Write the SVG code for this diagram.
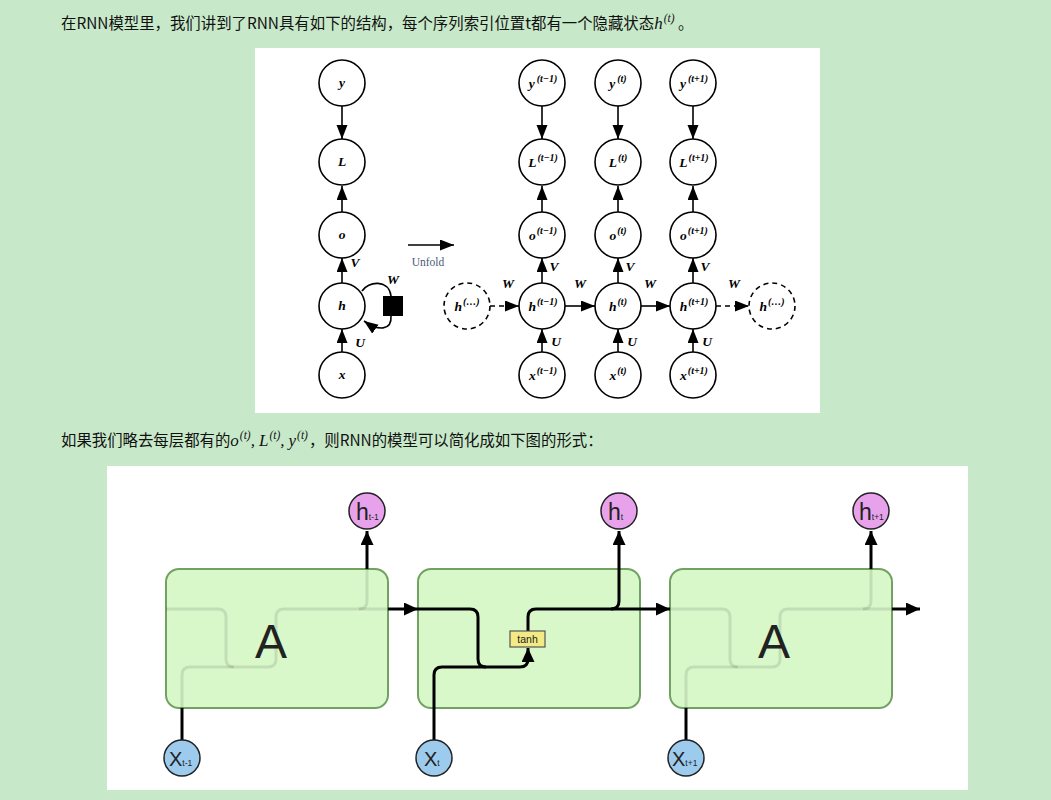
<svg xmlns="http://www.w3.org/2000/svg" width="1051" height="800" viewBox="0 0 1051 800">
<defs>
<style>
.cj{font-family:"Noto Sans CJK SC","Noto Sans",sans-serif;font-size:15.4px;fill:#111}
.mt{font-family:"Liberation Serif",serif;font-style:italic;font-size:17px;fill:#111}
.ms{font-family:"Liberation Serif",serif;font-style:italic;font-size:11.5px}
.nd{fill:#fff;stroke:#000;stroke-width:1.6}
.dn{fill:#fff;stroke:#000;stroke-width:1.6;stroke-dasharray:5 4}
.lb{font-family:"Liberation Serif",serif;font-weight:bold;font-style:italic;font-size:13.5px;fill:#000}
.sp{font-size:10px}
.ln{fill:none;stroke:#000;stroke-width:1.6}
.dl{fill:none;stroke:#000;stroke-width:1.6;stroke-dasharray:5 4}
.box{fill:#d9f8ca;stroke:#72a263;stroke-width:2}
.bl{fill:none;stroke:#000;stroke-width:3}
.fl{fill:none;stroke:#000;stroke-opacity:0.1;stroke-width:3}
.hc{fill:#e8a2ec;stroke:#222;stroke-width:1.5}
.xc{fill:#9ccbee;stroke:#222;stroke-width:1.5}
.ct{font-family:"Liberation Sans",sans-serif;fill:#222}
</style>
<marker id="ah" markerUnits="userSpaceOnUse" markerWidth="15" markerHeight="12" refX="14" refY="5.5" orient="auto"><path d="M0,0 L14,5.5 L0,11 z" fill="#000"/></marker>
<marker id="ab" markerUnits="userSpaceOnUse" markerWidth="15" markerHeight="14" refX="14" refY="6.5" orient="auto"><path d="M0,0 L14,6.5 L0,13 z" fill="#000"/></marker>
</defs>
<rect width="1051" height="800" fill="#c8e9c9"/>
<text x="61" y="29" class="cj">在RNN模型里，我们讲到了RNN具有如下的结构，每个序列索引位置t都有一个隐藏状态<tspan class="mt">h</tspan><tspan class="ms" dy="-7" dx="1">(t)</tspan><tspan dy="7"> 。</tspan></text>
<rect x="255" y="48" width="565" height="365" fill="#fff"/>
<g id="top-connectors">
<path class="ln" d="M342 106 V139" marker-end="url(#ah)"/>
<path class="ln" d="M342 212 V186" marker-end="url(#ah)"/>
<path class="ln" d="M342 283 V258" marker-end="url(#ah)"/>
<path class="ln" d="M342 352 V329" marker-end="url(#ah)"/>
<path class="ln" d="M362 291 C368 281 389 279 391 296"/>
<rect x="383" y="296" width="20" height="20" fill="#000"/>
<path class="ln" d="M391 316 C392 331 378 331 364 321" marker-end="url(#ah)"/>
<path class="ln" d="M408 245 H454" marker-end="url(#ah)"/>
<path class="ln" d="M542 106 V139" marker-end="url(#ah)"/>
<path class="ln" d="M542 212 V186" marker-end="url(#ah)"/>
<path class="ln" d="M542 283 V258" marker-end="url(#ah)"/>
<path class="ln" d="M542 352 V329" marker-end="url(#ah)"/>
<path class="ln" d="M618 106 V139" marker-end="url(#ah)"/>
<path class="ln" d="M618 212 V186" marker-end="url(#ah)"/>
<path class="ln" d="M618 283 V258" marker-end="url(#ah)"/>
<path class="ln" d="M618 352 V329" marker-end="url(#ah)"/>
<path class="ln" d="M693 106 V139" marker-end="url(#ah)"/>
<path class="ln" d="M693 212 V186" marker-end="url(#ah)"/>
<path class="ln" d="M693 283 V258" marker-end="url(#ah)"/>
<path class="ln" d="M693 352 V329" marker-end="url(#ah)"/>
<path class="dl" d="M490 306 H519" marker-end="url(#ah)"/>
<path class="ln" d="M565 306 H595" marker-end="url(#ah)"/>
<path class="ln" d="M641 306 H670" marker-end="url(#ah)"/>
<path class="dl" d="M716 306 H749" marker-end="url(#ah)"/>
<text x="428" y="266" text-anchor="middle" font-family="Liberation Serif,serif" font-size="11.5" fill="#4a5878">Unfold</text>
<g class="lb">
<text x="355" y="267" text-anchor="middle">V</text>
<text x="360" y="347" text-anchor="middle">U</text>
<text x="393" y="284" text-anchor="middle">W</text>
<text x="554" y="271" text-anchor="middle">V</text>
<text x="630" y="271" text-anchor="middle">V</text>
<text x="705" y="271" text-anchor="middle">V</text>
<text x="556" y="346" text-anchor="middle">U</text>
<text x="632" y="346" text-anchor="middle">U</text>
<text x="707" y="346" text-anchor="middle">U</text>
<text x="508" y="288" text-anchor="middle">W</text>
<text x="580" y="288" text-anchor="middle">W</text>
<text x="650" y="288" text-anchor="middle">W</text>
<text x="734" y="288" text-anchor="middle">W</text>
</g>
</g>
<g id="n-y"><circle class="nd" cx="342" cy="83" r="23"/><text class="lb" x="342" y="87" text-anchor="middle">y</text></g>
<g id="n-L"><circle class="nd" cx="342" cy="162" r="23"/><text class="lb" x="342" y="166" text-anchor="middle">L</text></g>
<g id="n-o"><circle class="nd" cx="342" cy="235" r="23"/><text class="lb" x="342" y="239" text-anchor="middle">o</text></g>
<g id="n-h"><circle class="nd" cx="342" cy="306" r="23"/><text class="lb" x="342" y="310" text-anchor="middle">h</text></g>
<g id="n-x"><circle class="nd" cx="342" cy="375" r="23"/><text class="lb" x="342" y="379" text-anchor="middle">x</text></g>
<g id="n-y1"><circle class="nd" cx="542" cy="83" r="23"/><text class="lb" x="543" y="88" text-anchor="middle">y<tspan class="sp" dy="-6" dx="2">(t−1)</tspan></text></g>
<g id="n-y2"><circle class="nd" cx="618" cy="83" r="23"/><text class="lb" x="618" y="88" text-anchor="middle">y<tspan class="sp" dy="-6" dx="2">(t)</tspan></text></g>
<g id="n-y3"><circle class="nd" cx="693" cy="83" r="23"/><text class="lb" x="694" y="88" text-anchor="middle">y<tspan class="sp" dy="-6" dx="2">(t+1)</tspan></text></g>
<g id="n-L1"><circle class="nd" cx="542" cy="162" r="23"/><text class="lb" x="543" y="167" text-anchor="middle">L<tspan class="sp" dy="-6" dx="1">(t−1)</tspan></text></g>
<g id="n-L2"><circle class="nd" cx="618" cy="162" r="23"/><text class="lb" x="618" y="167" text-anchor="middle">L<tspan class="sp" dy="-6" dx="1">(t)</tspan></text></g>
<g id="n-L3"><circle class="nd" cx="693" cy="162" r="23"/><text class="lb" x="694" y="167" text-anchor="middle">L<tspan class="sp" dy="-6" dx="1">(t+1)</tspan></text></g>
<g id="n-o1"><circle class="nd" cx="542" cy="235" r="23"/><text class="lb" x="543" y="240" text-anchor="middle">o<tspan class="sp" dy="-6" dx="1">(t−1)</tspan></text></g>
<g id="n-o2"><circle class="nd" cx="618" cy="235" r="23"/><text class="lb" x="618" y="240" text-anchor="middle">o<tspan class="sp" dy="-6" dx="1">(t)</tspan></text></g>
<g id="n-o3"><circle class="nd" cx="693" cy="235" r="23"/><text class="lb" x="694" y="240" text-anchor="middle">o<tspan class="sp" dy="-6" dx="1">(t+1)</tspan></text></g>
<g id="n-h0"><circle class="dn" cx="467" cy="306" r="23"/><text class="lb" x="467" y="311" text-anchor="middle">h<tspan class="sp" dy="-6" dx="1">(…)</tspan></text></g>
<g id="n-h1"><circle class="nd" cx="542" cy="306" r="23"/><text class="lb" x="543" y="311" text-anchor="middle">h<tspan class="sp" dy="-6" dx="1">(t−1)</tspan></text></g>
<g id="n-h2"><circle class="nd" cx="618" cy="306" r="23"/><text class="lb" x="618" y="311" text-anchor="middle">h<tspan class="sp" dy="-6" dx="1">(t)</tspan></text></g>
<g id="n-h3"><circle class="nd" cx="693" cy="306" r="23"/><text class="lb" x="694" y="311" text-anchor="middle">h<tspan class="sp" dy="-6" dx="1">(t+1)</tspan></text></g>
<g id="n-h4"><circle class="dn" cx="772" cy="306" r="23"/><text class="lb" x="772" y="311" text-anchor="middle">h<tspan class="sp" dy="-6" dx="1">(…)</tspan></text></g>
<g id="n-x1"><circle class="nd" cx="542" cy="375" r="23"/><text class="lb" x="543" y="380" text-anchor="middle">x<tspan class="sp" dy="-6" dx="1">(t−1)</tspan></text></g>
<g id="n-x2"><circle class="nd" cx="618" cy="375" r="23"/><text class="lb" x="618" y="380" text-anchor="middle">x<tspan class="sp" dy="-6" dx="1">(t)</tspan></text></g>
<g id="n-x3"><circle class="nd" cx="693" cy="375" r="23"/><text class="lb" x="694" y="380" text-anchor="middle">x<tspan class="sp" dy="-6" dx="1">(t+1)</tspan></text></g>
<text x="61" y="446" class="cj">如果我们略去每层都有的<tspan class="mt">o</tspan><tspan class="ms" dy="-7" dx="1">(t)</tspan><tspan class="mt" dy="7">,</tspan><tspan class="mt" dx="4">L</tspan><tspan class="ms" dy="-7" dx="1">(t)</tspan><tspan class="mt" dy="7">,</tspan><tspan class="mt" dx="4">y</tspan><tspan class="ms" dy="-7" dx="1">(t)</tspan><tspan dy="7" dx="1">，则RNN的模型可以简化成如下图的形式：</tspan></text>
<rect x="107" y="466" width="861" height="324" fill="#fff"/>
<g id="box1"><rect class="box" x="166" y="569" width="222" height="139" rx="13"/><text class="ct" x="271" y="658" text-anchor="middle" font-size="48">A</text></g>
<g id="box2"><rect class="box" x="418" y="569" width="222" height="139" rx="13"/></g>
<g id="box3"><rect class="box" x="670" y="569" width="222" height="139" rx="13"/><text class="ct" x="774" y="658" text-anchor="middle" font-size="48">A</text></g>
<g id="bottom-connectors">
<path class="fl" d="M166 609 H218 Q226 609 226 617 V659 Q226 667 234 667 H268 Q276 667 276 659 V617 Q276 609 284 609 H388"/>
<path class="fl" d="M182 708 V675 Q182 667 190 667 H234"/>
<path class="fl" d="M359 609 Q367 609 367 601 V569"/>
<path class="fl" d="M670 609 H722 Q730 609 730 617 V659 Q730 667 738 667 H772 Q780 667 780 659 V617 Q780 609 788 609 H892"/>
<path class="fl" d="M686 708 V675 Q686 667 694 667 H738"/>
<path class="fl" d="M863 609 Q871 609 871 601 V569"/>
<path class="bl" d="M367 569 V531" marker-end="url(#ab)"/>
<path class="bl" d="M182 741 V708"/>
<path class="bl" d="M388 609 H418" marker-end="url(#ab)"/>
<path class="bl" d="M871 569 V531" marker-end="url(#ab)"/>
<path class="bl" d="M686 741 V708"/>
<path class="bl" d="M892 609 H920" marker-end="url(#ab)"/>
<path class="bl" d="M418 609 H470 Q478 609 478 617 V659 Q478 667 486 667 H520 Q528 667 528 659 V648" marker-end="url(#ab)"/>
<path class="bl" d="M434 741 V675 Q434 667 442 667 H486"/>
<path class="bl" d="M528 631 V617 Q528 609 536 609 H670" marker-end="url(#ab)"/>
<path class="bl" d="M611 609 Q619 609 619 601 V531" marker-end="url(#ab)"/>
</g>
<g id="tanh"><rect x="510" y="631" width="35" height="16" fill="#f3ea86" stroke="#555" stroke-width="1.2"/><text class="ct" x="527.5" y="643" text-anchor="middle" font-size="10.5" fill="#333">tanh</text></g>
<g id="h-t1"><circle class="hc" cx="367" cy="511" r="18"/><text class="ct" x="356" y="520" font-size="23">h<tspan font-size="8.5">t-1</tspan></text></g>
<g id="h-t"><circle class="hc" cx="619" cy="511" r="18"/><text class="ct" x="608" y="520" font-size="23">h<tspan font-size="8.5">t</tspan></text></g>
<g id="h-t2"><circle class="hc" cx="871" cy="511" r="18"/><text class="ct" x="859" y="520" font-size="23">h<tspan font-size="8.5">t+1</tspan></text></g>
<g id="x-t1"><circle class="xc" cx="182" cy="758" r="18"/><text class="ct" x="169" y="766" font-size="20">X<tspan font-size="8.5">t-1</tspan></text></g>
<g id="x-t"><circle class="xc" cx="434" cy="758" r="18"/><text class="ct" x="424" y="766" font-size="20">X<tspan font-size="8.5">t</tspan></text></g>
<g id="x-t2"><circle class="xc" cx="686" cy="758" r="18"/><text class="ct" x="672" y="766" font-size="20">X<tspan font-size="8.5">t+1</tspan></text></g>
</svg>
